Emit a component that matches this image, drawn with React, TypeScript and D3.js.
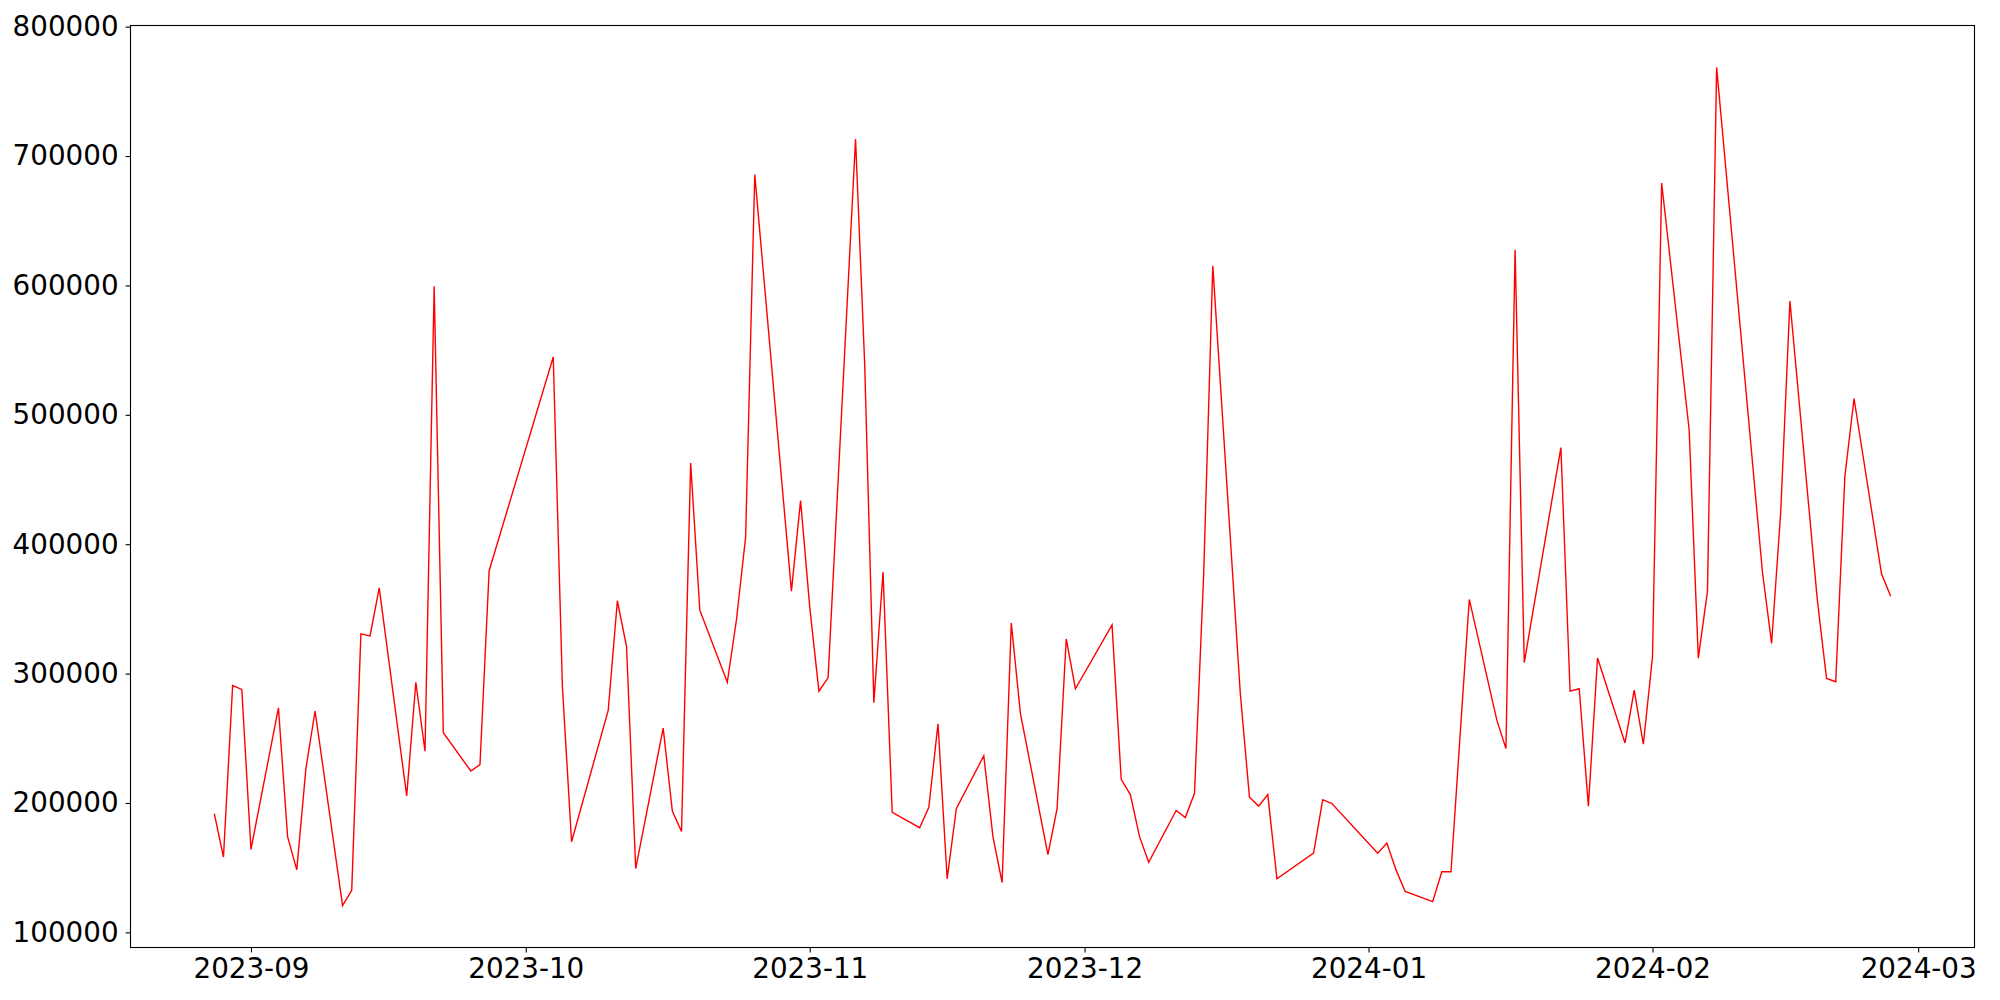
import { useEffect, useRef } from 'react'
import * as d3 from 'd3'

const W = 2000
const H = 1000
const MARGIN = { top: 25.5, right: 25.5, bottom: 52.5, left: 130.5 }

const dates = [
  '2023-08-28', '2023-08-29', '2023-08-30', '2023-08-31', '2023-09-01',
  '2023-09-04', '2023-09-05', '2023-09-06', '2023-09-07', '2023-09-08',
  '2023-09-11', '2023-09-12', '2023-09-13', '2023-09-14', '2023-09-15',
  '2023-09-18', '2023-09-19', '2023-09-20', '2023-09-21', '2023-09-22',
  '2023-09-25', '2023-09-26', '2023-09-27',
  '2023-10-04', '2023-10-05', '2023-10-06',
  '2023-10-10', '2023-10-11', '2023-10-12', '2023-10-13',
  '2023-10-16', '2023-10-17', '2023-10-18', '2023-10-19', '2023-10-20',
  '2023-10-23', '2023-10-24', '2023-10-25', '2023-10-26',
  '2023-10-30', '2023-10-31', '2023-11-01', '2023-11-02', '2023-11-03',
  '2023-11-06', '2023-11-07', '2023-11-08', '2023-11-09', '2023-11-10',
  '2023-11-13', '2023-11-14', '2023-11-15', '2023-11-16', '2023-11-17',
  '2023-11-20', '2023-11-21', '2023-11-22', '2023-11-23', '2023-11-24',
  '2023-11-27', '2023-11-28', '2023-11-29', '2023-11-30',
  '2023-12-04', '2023-12-05', '2023-12-06', '2023-12-07', '2023-12-08',
  '2023-12-11', '2023-12-12', '2023-12-13', '2023-12-14', '2023-12-15',
  '2023-12-18', '2023-12-19', '2023-12-20', '2023-12-21', '2023-12-22',
  '2023-12-26', '2023-12-27', '2023-12-28',
  '2024-01-02', '2024-01-03', '2024-01-04', '2024-01-05',
  '2024-01-08', '2024-01-09', '2024-01-10', '2024-01-11', '2024-01-12',
  '2024-01-15', '2024-01-16', '2024-01-17', '2024-01-18',
  '2024-01-22', '2024-01-23', '2024-01-24', '2024-01-25', '2024-01-26',
  '2024-01-29', '2024-01-30', '2024-01-31', '2024-02-01', '2024-02-02',
  '2024-02-05', '2024-02-06', '2024-02-07', '2024-02-08',
  '2024-02-13', '2024-02-14', '2024-02-15', '2024-02-16',
  '2024-02-19', '2024-02-20', '2024-02-21', '2024-02-22', '2024-02-23',
  '2024-02-26', '2024-02-27',
]

const values = [
  191700, 158200, 290800, 287800, 164100,
  273500, 174000, 148300, 226700, 271100,
  120700, 132500, 330700, 329200, 366200,
  205500, 293300, 240000, 599400, 254300,
  224700, 229700, 379500,
  544700, 289800, 170000,
  271600, 356300, 320900, 149300,
  257800, 193700, 177900, 462800, 349000,
  293300, 341600, 405600, 685600,
  363700, 433800, 351400, 286400, 296700,
  713200, 538700, 277500, 378500, 192700,
  180900, 196600, 261200, 141400, 195600,
  236500, 174000, 138500, 339100, 269100,
  160100, 195600, 326800, 288300,
  337600, 218300, 206500, 174000, 154200,
  194200, 188700, 207500, 376100, 615100,
  284900, 204500, 197600, 206500, 141400,
  161200, 202600, 199600,
  161200, 169000, 148300, 131600,
  123700, 146900, 146900, 252800, 357300,
  264200, 242000, 627500, 308500,
  474700, 286400, 288300, 197600, 312000,
  246400, 287300, 245400, 313000, 679200,
  488500, 312000, 363700, 768500,
  378500, 323300, 425400, 588000,
  356400, 296200, 293700, 452500, 512600,
  377100, 359800,
]

const yTickValues = [100000, 200000, 300000, 400000, 500000, 600000, 700000, 800000]

const FONT = '"DejaVu Sans", sans-serif'
const FONT_SIZE = 27.78

export default function App() {
  const svgRef = useRef<SVGSVGElement | null>(null)

  useEffect(() => {
    const svgEl = svgRef.current
    if (!svgEl) return

    const iW = W - MARGIN.left - MARGIN.right
    const iH = H - MARGIN.top - MARGIN.bottom

    const parseDate = d3.timeParse('%Y-%m-%d')
    const points = dates.map((d, i) => ({ date: parseDate(d) as Date, v: values[i] }))

    // matplotlib-like 5% margins on both axes
    const [d0, d1] = d3.extent(points, d => d.date) as [Date, Date]
    const span = +d1 - +d0
    const xScale = d3.scaleTime()
      .domain([new Date(+d0 - span * 0.05), new Date(+d1 + span * 0.05)])
      .range([0, iW])

    const [vMin, vMax] = d3.extent(points, d => d.v) as [number, number]
    const pad = (vMax - vMin) * 0.05
    const yScale = d3.scaleLinear()
      .domain([vMin - pad, vMax + pad])
      .range([iH, 0])

    const svg = d3.select(svgEl)
    svg.selectAll('*').remove()
    svg.attr('width', W).attr('height', H)

    svg.append('rect').attr('width', W).attr('height', H).attr('fill', 'white')

    const g = svg.append('g')
      .attr('transform', `translate(${MARGIN.left},${MARGIN.top})`)

    const line = d3.line<{ date: Date; v: number }>()
      .x(d => xScale(d.date))
      .y(d => yScale(d.v))

    g.append('path')
      .datum(points)
      .attr('fill', 'none')
      .attr('stroke', '#ff0000')
      .attr('stroke-width', 1.4)
      .attr('stroke-linejoin', 'miter')
      .attr('d', line)

    // X axis
    const xAxis = d3.axisBottom(xScale)
      .ticks(d3.timeMonth.every(1))
      .tickFormat(d3.timeFormat('%Y-%m') as any)
      .tickSize(4.9)
      .tickPadding(6)
    g.append('g')
      .attr('transform', `translate(0,${iH})`)
      .call(xAxis)
      .call(ax => ax.select('.domain').remove())
      .call(ax => ax.selectAll('line').attr('stroke', '#000').attr('stroke-width', 1.1))
      .call(ax => ax.selectAll('text')
        .attr('font-size', FONT_SIZE)
        .attr('font-family', FONT)
        .attr('fill', '#000'))

    // Y axis
    const yAxis = d3.axisLeft(yScale)
      .tickValues(yTickValues)
      .tickFormat(d => String(d))
      .tickSize(4.9)
      .tickPadding(7)
    g.append('g')
      .call(yAxis)
      .call(ax => ax.select('.domain').remove())
      .call(ax => ax.selectAll('line').attr('stroke', '#000').attr('stroke-width', 1.1))
      .call(ax => ax.selectAll('text')
        .attr('font-size', FONT_SIZE)
        .attr('font-family', FONT)
        .attr('fill', '#000'))

    // Frame (all four spines)
    g.append('rect')
      .attr('width', iW)
      .attr('height', iH)
      .attr('fill', 'none')
      .attr('stroke', '#000')
      .attr('stroke-width', 1.1)
  }, [])

  return (
    <svg
      ref={svgRef}
      style={{ position: 'absolute', left: 0, top: 0, display: 'block' }}
    />
  )
}
